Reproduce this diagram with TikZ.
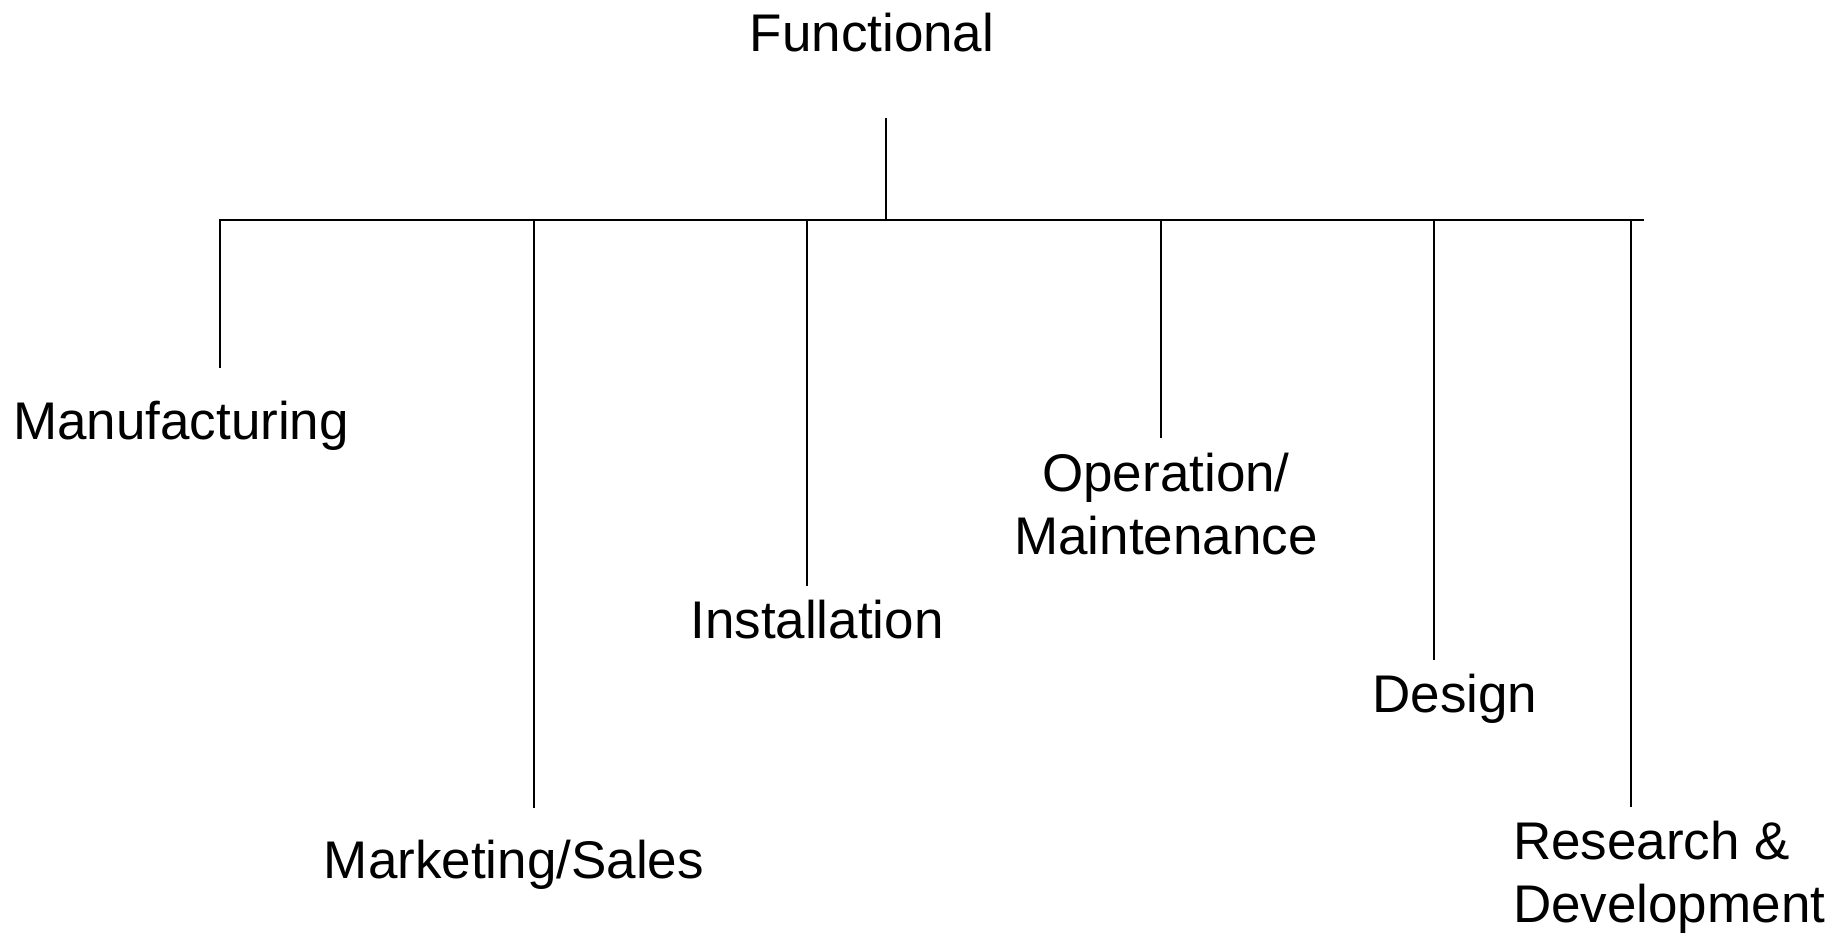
\documentclass[tikz,border=0pt]{standalone}
\usepackage{fontspec}
\setmainfont{Liberation Sans}
\begin{document}
\begin{tikzpicture}[x=0.5pt,y=-0.5pt,
  lbl/.style={inner sep=0pt, outer sep=0pt, font=\fontsize{26.5}{31.5}\selectfont},
  conn/.style={line width=1pt, black}]
\useasboundingbox (0,0) rectangle (1848,934);
% labels
\node[lbl, anchor=base] (func) at (872,51) {Functional};
\node[lbl, anchor=base] (manu) at (181,439) {Manufacturing};
\node[lbl, anchor=base] (mark) at (514,878) {Marketing/Sales};
\node[lbl, anchor=base] (inst) at (817,638) {Installation};
\node[lbl, anchor=base, align=center] (oper) at (1166,554) {Operation/\\Maintenance};
\node[lbl, anchor=base] (desi) at (1455,712) {Design};
\node[lbl, anchor=base west, align=left] (rese) at (1513,922) {Research \&\\Development};
% connector points
\coordinate (stemtop) at (886,118);
\coordinate (barL) at (220,220);
\coordinate (barR) at (1643,220);
\coordinate (e1) at (220,368);
\coordinate (e2) at (534,808);
\coordinate (e3) at (807,586);
\coordinate (e4) at (1161,438);
\coordinate (e5) at (1434,660);
\coordinate (e6) at (1631,807);
% connectors
\draw[conn] (stemtop) -- (stemtop |- barL);
\draw[conn, line cap=rect] (barL) -- (barR);
\draw[conn] (barL) -- (e1);
\draw[conn] (e2 |- barL) -- (e2);
\draw[conn] (e3 |- barL) -- (e3);
\draw[conn] (e4 |- barL) -- (e4);
\draw[conn] (e5 |- barL) -- (e5);
\draw[conn] (e6 |- barL) -- (e6);
\end{tikzpicture}
\end{document}
